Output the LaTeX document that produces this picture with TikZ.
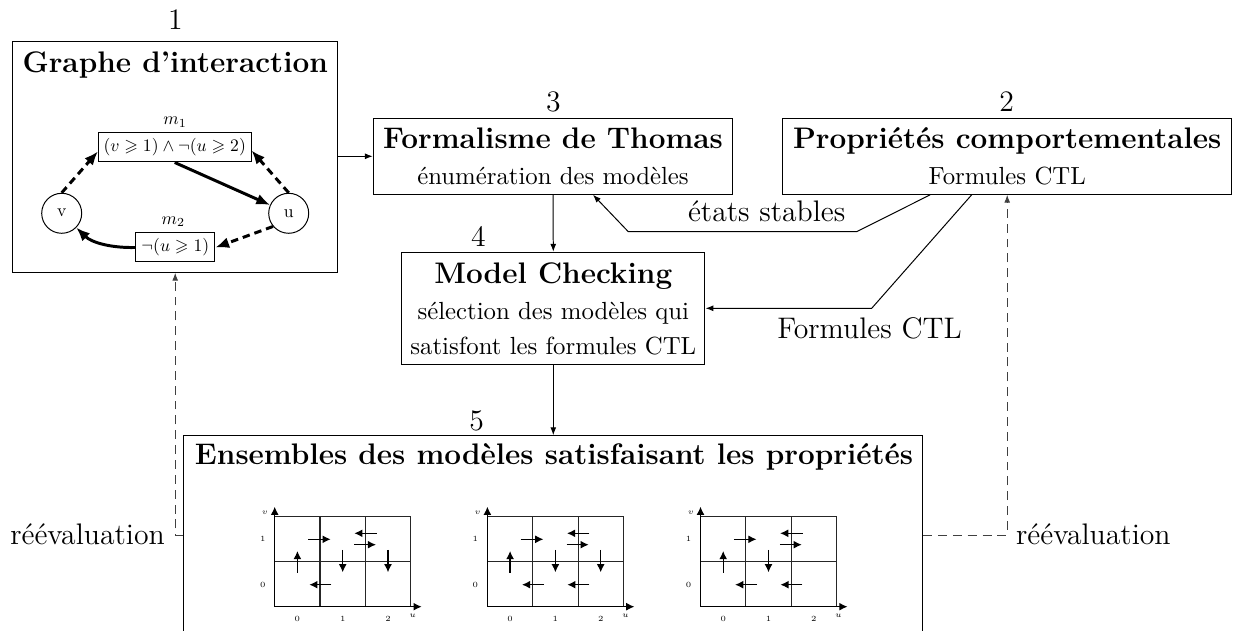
\RequirePackage{fix-cm}
\documentclass[tikz,border=0pt]{standalone}
\usepackage{amssymb}
\usetikzlibrary{arrows.meta}
\newcommand\pxu{0.4037pt}
\newcommand\smallmath[1]{\scalebox{0.71}{#1}}
\tikzset{
  box/.style={draw, rectangle, inner sep=0pt},
  tit/.style={font=\large\bfseries, anchor=base, inner sep=0pt},
  sub/.style={font=\normalsize, anchor=base, inner sep=0pt},
  big/.style={font=\large, anchor=base, inner sep=0pt},
  conn/.style={-{Latex[length=3.2pt,width=2.4pt]}},
  dconn/.style={conn, dash pattern=on 3.6pt off 2.4pt, draw=black!75},
  gthick/.style={line width=1.2pt, -{Latex[length=5.5pt,width=4.5pt]}},
  gdash/.style={gthick, dash pattern=on 3pt off 2pt},
  mbox/.style={draw, inner sep=0pt, minimum height={29*\pxu}, font=\normalsize},
  mlab/.style={inner sep=0pt, font=\normalsize},
  stnode/.style={draw, circle, inner sep=0pt, minimum size={40*\pxu}, font=\normalsize},
  gline/.style={line width=0.45pt, draw=black!85},
  garrow/.style={line width=0.5pt, -{Latex[length=3.3pt,width=3.2pt]}},
  glab/.style={inner sep=0pt, font=\fontsize{3.2}{4}\selectfont},
  stgrid/.pic={
    \draw[gline] (0,0) rectangle (136,90) (45.3,0) -- (45.3,90) (90.7,0) -- (90.7,90) (0,45) -- (136,45);
    \draw[garrow] (0,0) -- (0,100);
    \draw[garrow] (0,0) -- (147,0);
    \node[glab] (-v) at (-9.7,93.7) {$v$};
    \node[glab] (-u) at (138,-9) {$u$};
    \node[glab] (-r1) at (-12,67.7) {1};
    \node[glab] (-r0) at (-12,22) {0};
    \node[glab] (-c0) at (22.7,-12.3) {0};
    \node[glab] (-c1) at (68,-12.3) {1};
    \node[glab] (-c2) at (113.3,-12.3) {2};
    \draw[garrow] (22.7,33.7) -- (22.7,55.7);
    \draw[garrow] (33.3,67.4) -- (56,67.4);
    \draw[garrow] (102,73.4) -- (79.6,73.4);
    \draw[garrow] (79.3,62) -- (101.3,62);
    \draw[garrow] (68,56.7) -- (68,34.4);
    \draw[garrow] (56.6,22) -- (34.6,22);
  },
  downtwo/.pic={\draw[garrow] (113.3,56.7) -- (113.3,34.4);},
  lefttwo/.pic={\draw[garrow] (101.9,22) -- (79.9,22);}
}
\begin{document}
\begin{tikzpicture}[x=0.4037pt, y=-0.4037pt]
\useasboundingbox (0,0) rectangle (1236,631);
\clip (0,0) rectangle (1236,631);

% boxes
\node[box, minimum width={325*\pxu}, minimum height={230.6*\pxu}] (b1) at (175.2,157) {};
\node[box, minimum width={359.4*\pxu}, minimum height={76*\pxu}] (b3) at (553,156.3) {};
\node[box, minimum width={449*\pxu}, minimum height={76*\pxu}] (b2) at (1007.2,156.3) {};
\node[box, minimum width={303.3*\pxu}, minimum height={112*\pxu}] (b4) at (553.3,308.3) {};
\node[box, minimum width={738.7*\pxu}, minimum height={264.2*\pxu}] (b5) at (553.3,567.8) {};

% numbers
\node[big] (n1) at (175.5,30) {1};
\node[big] (n3) at (553.3,111.7) {3};
\node[big] (n2) at (1006.7,111.7) {2};
\node[big] (n4) at (478.3,246.7) {4};
\node[big] (n5) at (476.7,430.5) {5};

% titles
\node[tit] (t1) at (175.2,72.7) {Graphe d'interaction};
\node[tit] (t3) at (553,148.3) {Formalisme de Thomas};
\node[sub] (s3) at (553,185) {énumération des modèles};
\node[tit] (t2) at (1007.2,148.3) {Propriétés comportementales};
\node[sub] (s2) at (1007.2,185) {Formules CTL};
\node[tit] (t4) at (553.3,283.3) {Model Checking};
\node[sub] (s4a) at (553.3,320) {sélection des modèles qui};
\node[sub] (s4b) at (553.3,355) {satisfont les formules CTL};
\node[tit] (t5) at (554,465) {Ensembles des modèles satisfaisant les propriétés};

% interaction graph
\node[mbox, minimum width={152.7*\pxu}] (m1) at (174.7,147.5) {\smallmath{$(v \geqslant 1) \wedge \neg(u \geqslant 2)$}};
\node[mlab] (m1l) at (175,122) {\smallmath{$m_1$}};
\node[mbox, minimum width={79.3*\pxu}] (m2) at (175.3,247.5) {\smallmath{$\neg(u \geqslant 1)$}};
\node[mlab] (m2l) at (173.3,221.7) {\smallmath{$m_2$}};
\node[stnode] (v) at (61.7,213.3) {\smallmath{v}};
\node[stnode] (u) at (288.7,213.3) {\smallmath{u}};
\draw[gdash] (v.north) -- ([yshift=-4*\pxu]m1.west);
\draw[gdash] (u.north) -- ([yshift=-3*\pxu]m1.east);
\draw[gthick] (m1.south) -- (u);
\draw[gdash] (u.-140) -- (m2.east);
\draw[gthick] (m2.west) .. controls (112,248) and (92,243) .. (v);

% connectors
\draw[conn] (b1.east |- b3.west) -- (b3.west);
\draw[conn] (b3.south) -- (b4.north);
\draw[conn] (b4.south) -- (b5.north);
\coordinate (es1) at (856.7,231.7);
\coordinate (es2) at (628.3,231.7);
\draw[conn] ([xshift=-77*\pxu]b2.south) -- (es1) -- (es2) -- ([xshift=40*\pxu]b3.south);
\node[big] (les) at (766.7,221.7) {états stables};
\coordinate (fc1) at (871.7,308.3);
\draw[conn] ([xshift=-35.5*\pxu]b2.south) -- (fc1) -- (b4.east);
\node[big] (lfc) at (869.5,338.3) {Formules CTL};

\coordinate (cl) at (175.2,535);
\coordinate (cr) at (1007.2,535);
\draw[dconn] (b5.west |- cl) -- (cl) -- (b1.south);
\draw[dconn] (b5.east |- cr) -- (cr) -- (b2.south);
\node[big] (rl) at (87.5,545) {réévaluation};
\node[big] (rr) at (1093.3,545) {réévaluation};

% state graphs
\pic[yscale=-1] (g1) at (274.7,606.7) {stgrid};
\pic[yscale=-1] (g1d) at (274.7,606.7) {downtwo};
\pic[yscale=-1] (g2) at (487.4,606.7) {stgrid};
\pic[yscale=-1] (g2d) at (487.4,606.7) {downtwo};
\pic[yscale=-1] (g2l) at (487.4,606.7) {lefttwo};
\pic[yscale=-1] (g3) at (700.5,606.7) {stgrid};
\pic[yscale=-1] (g3l) at (700.5,606.7) {lefttwo};
\end{tikzpicture}
\end{document}
